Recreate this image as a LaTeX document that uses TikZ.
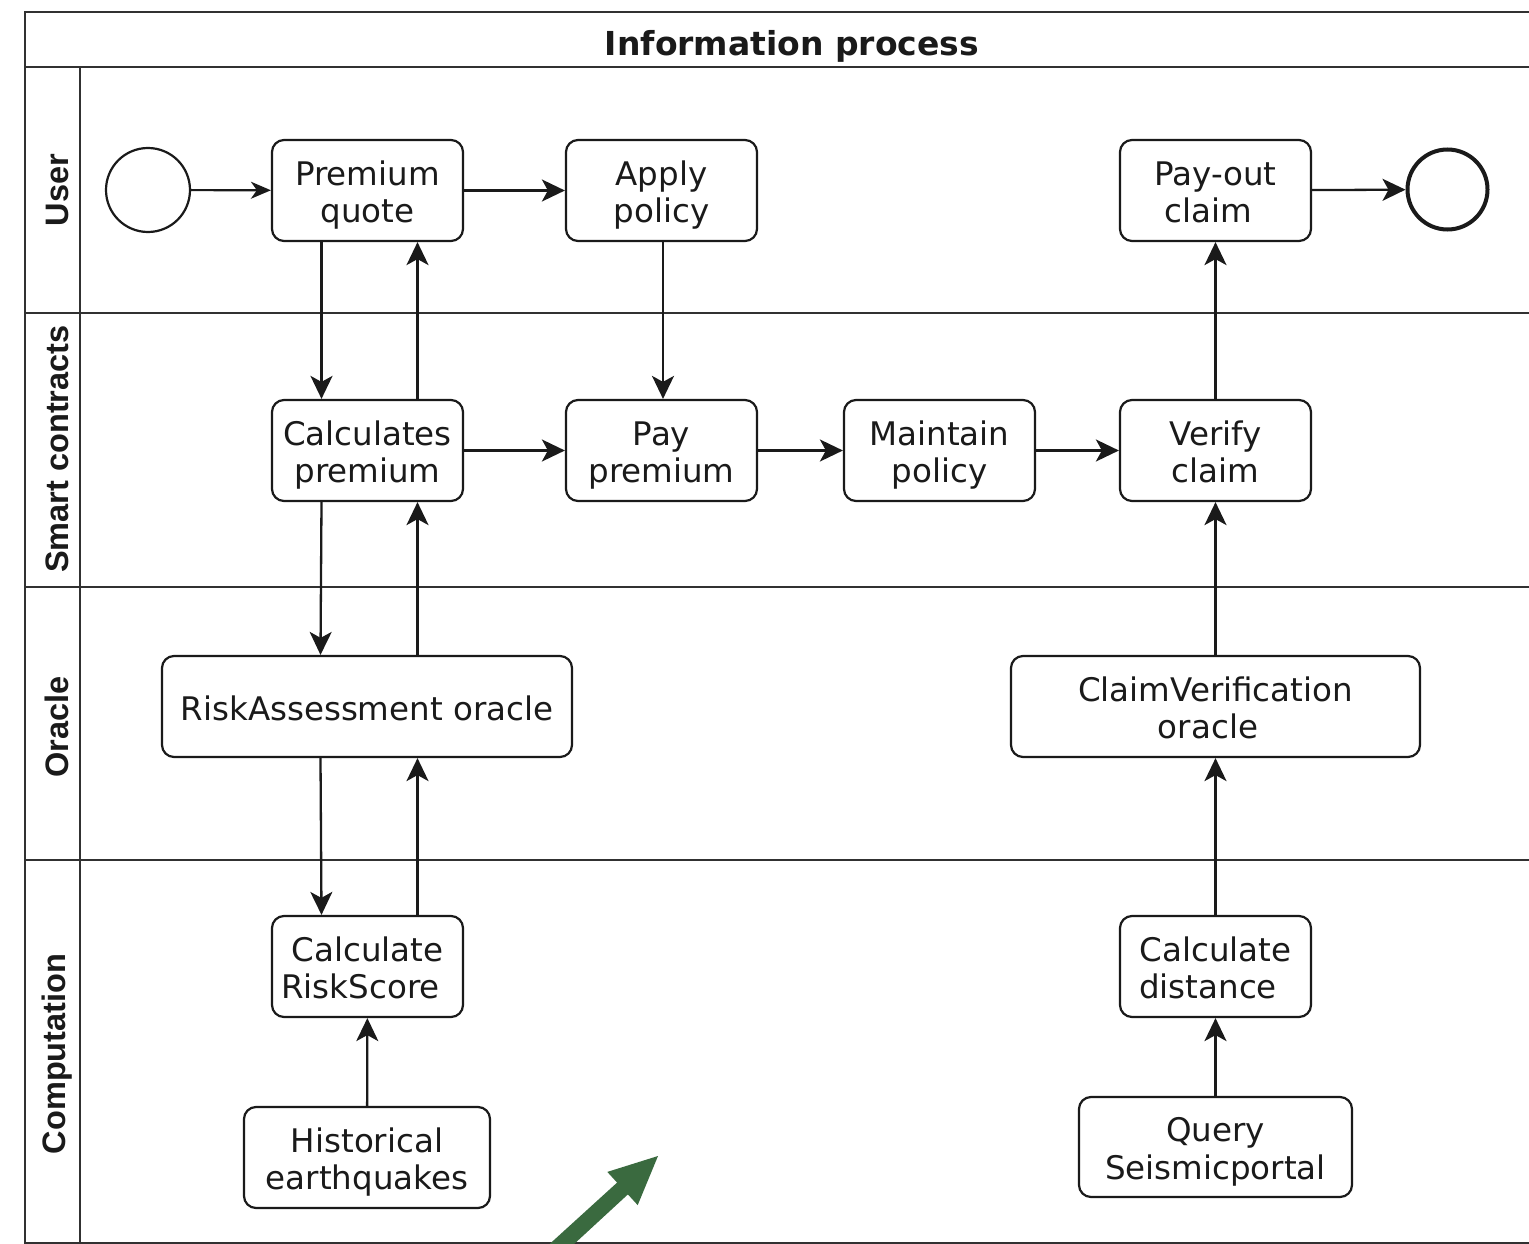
\documentclass[tikz,border=0pt]{standalone}
\usepackage{fontspec}
\newfontfamily\boxfont{DejaVu Sans}
\newfontfamily\lanefont{Liberation Sans}
\usetikzlibrary{arrows.meta}
\definecolor{ink}{HTML}{1A1A1A}
\definecolor{arrowgreen}{HTML}{3A6A3F}
\newcommand\lnstrut{\rule[-8pt]{0pt}{43pt}}
\newcommand\trail[1]{\rule{#1}{0pt}}
\tikzset{
  frameline/.style={line width=2.8pt, draw=ink!90},
  box/.style={draw=ink, line width=2.2pt, rounded corners=12pt, minimum width=191pt,
    minimum height=101pt, inner sep=0pt, align=center, text=ink,
    font={\boxfont\fontsize{32.5}{37.5}\selectfont\lineskiplimit=-60pt}},
  event/.style={draw=ink, circle, minimum size=84pt, inner sep=0pt, line width=2.2pt},
  endevent/.style={draw=ink, circle, minimum size=80pt, inner sep=0pt, line width=4pt},
  flow/.style={draw=ink, line width=2.3pt, -{Stealth[length=23pt,width=22pt,inset=6pt]}},
  lanelabel/.style={rotate=90, font={\lanefont\bfseries\fontsize{32.5}{36}\selectfont}, text=ink},
  titlelabel/.style={font={\boxfont\bfseries\fontsize{33}{38}\selectfont}, text=ink}
}
\begin{document}
\begin{tikzpicture}[x=1pt,y=-1pt]
\useasboundingbox (0,0) rectangle (1529,1244);
\clip (0,0) rectangle (1529,1244);
\fill[white] (0,0) rectangle (1529,1244);
% pool frame
\draw[frameline] (1535,12) -- (25,12) -- (25,1243) -- (1535,1243);
\draw[frameline] (25,67) -- (1535,67);
\draw[frameline] (80,67) -- (80,1243);
\draw[frameline] (25,313) -- (1535,313);
\draw[frameline] (25,587) -- (1535,587);
\draw[frameline] (25,860) -- (1535,860);
% labels
\node[titlelabel] (title) at (792,46) {Information process};
\node[lanelabel] (lUser) at (57,190) {User};
\node[lanelabel] (lSmart) at (57,449) {Smart contracts};
\node[lanelabel] (lOracle) at (57,727) {Oracle};
\node[lanelabel] (lComp) at (57,1054) {Computation};
% nodes
\node[event] (start) at (148,190) {};
\node[box] (pq) at (367.5,190.5) {\lnstrut Premium\\\lnstrut quote};
\node[box] (ap) at (661.5,190.5) {\lnstrut Apply\\\lnstrut policy};
\node[box] (po) at (1215.5,190.5) {\lnstrut Pay-out\\\lnstrut claim\trail{14pt}};
\node[endevent] (end) at (1447.5,189.5) {};
\node[box] (cp) at (367.5,450.5) {\lnstrut Calculates\\\lnstrut premium};
\node[box] (pp) at (661.5,450.5) {\lnstrut Pay\\\lnstrut premium};
\node[box] (mp) at (939.5,450.5) {\lnstrut Maintain\\\lnstrut policy};
\node[box] (vc) at (1215.5,450.5) {\lnstrut Verify\\\lnstrut claim};
\node[box, minimum width=410pt] (ra) at (367,706.5) {\lnstrut RiskAssessment oracle};
\node[box, minimum width=409pt] (cv) at (1215.5,706.5) {\lnstrut ClaimVerification\\\lnstrut oracle\trail{15pt}};
\node[box] (rs) at (367.5,966.5) {\lnstrut Calculate\\\lnstrut RiskScore\trail{14pt}};
\node[box, minimum width=246pt] (he) at (367,1157.5) {\lnstrut Historical\\\lnstrut earthquakes};
\node[box] (cd) at (1215.5,966.5) {\lnstrut Calculate\\\lnstrut distance\trail{15pt}};
\node[box, minimum width=273pt, minimum height=100pt] (qs) at (1215.5,1147) {\lnstrut Query\\\lnstrut Seismicportal};
% flows
\draw[draw=ink, line width=2.2pt, -{Stealth[length=20pt,width=17pt,inset=6pt]}] (start) -- (pq);
\draw[flow] (pq) -- (ap);
\draw[flow] (po) -- (end);
\draw[flow] ([xshift=-46pt]pq.south) -- ([xshift=-46pt]cp.north);
\draw[flow] ([xshift=50pt]cp.north) -- ([xshift=50pt]pq.south);
\draw[flow] ([xshift=-46pt]cp.south) -- ([xshift=-46.5pt]ra.north);
\draw[flow] ([xshift=50.5pt]ra.north) -- ([xshift=50pt]cp.south);
\draw[flow] ([xshift=-46.5pt]ra.south) -- ([xshift=-46pt]rs.north);
\draw[flow] ([xshift=50pt]rs.north) -- ([xshift=50.5pt]ra.south);
\draw[flow] (he) -- (rs);
\draw[flow] ([xshift=1.5pt]ap.south) -- ([xshift=1.5pt]pp.north);
\draw[flow] (cp) -- (pp);
\draw[flow] (pp) -- (mp);
\draw[flow] (mp) -- (vc);
\draw[flow] (vc) -- (po);
\draw[flow] (cv) -- (vc);
\draw[flow] (cd) -- (cv);
\draw[flow] (qs) -- (cd);
% green pointer arrow
\fill[arrowgreen] (542.8,1250.2) -- (617.1,1182.6) -- (607.3,1171.9) -- (658,1156)
  -- (637.7,1205.1) -- (627.9,1194.4) -- (554.6,1262.0) -- cycle;
\end{tikzpicture}
\end{document}
